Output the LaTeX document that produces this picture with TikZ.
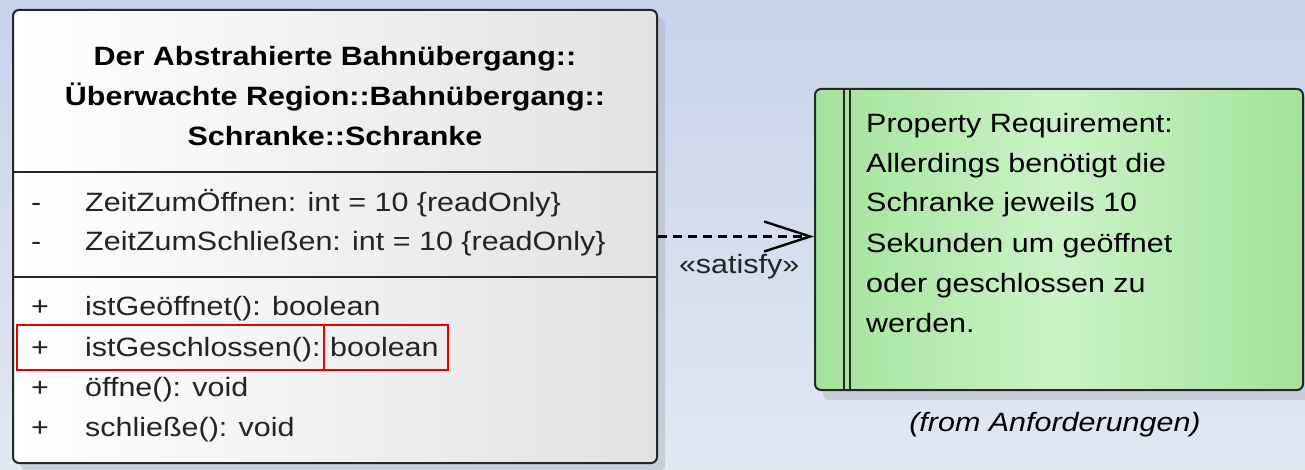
\documentclass[tikz,border=0pt]{standalone}
\usepackage{fontspec}
\setmainfont{Liberation Sans}[FakeStretch=1.15]
\usetikzlibrary{arrows.meta,calc}

\definecolor{bgtop}{RGB}{200,211,235}
\definecolor{bgbot}{RGB}{226,231,242}
\definecolor{shadowgray}{RGB}{170,175,190}
\definecolor{clsright}{RGB}{226,226,226}
\definecolor{reqdark}{RGB}{162,227,154}
\definecolor{reqlight}{RGB}{204,242,200}
\definecolor{txt}{RGB}{35,35,35}
\definecolor{mark}{RGB}{230,0,0}

\tikzset{
  classbox/.style={draw=black!85, line width=2pt, rounded corners=6pt,
    left color=white, right color=clsright, inner sep=0pt},
  reqbox/.style={draw=black!85, line width=2pt, rounded corners=6pt,
    left color=reqdark, right color=reqdark, middle color=reqlight, inner sep=0pt},
  boxshadow/.style={fill=shadowgray, opacity=0.45, rounded corners=6pt},
  sep/.style={draw=black!85, line width=2pt},
  hdr/.style={font=\fontsize{26.5}{40}\selectfont\bfseries, align=center, text=black, inner sep=0pt},
  member/.style={font=\fontsize{26.5}{40}\selectfont, anchor=base west, text=txt, inner sep=0pt},
  reqtext/.style={font=\fontsize{26.5}{40}\selectfont, anchor=base west, text=black, inner sep=0pt},
  hilite/.style={draw=mark, line width=1.6pt},
  satisfy/.style={draw=black, line width=2.2pt, dash pattern=on 9pt off 6pt,
    -{Straight Barb[length=46pt,width=30pt,line width=2.4pt]}},
}

\begin{document}
\begin{tikzpicture}[x=1pt,y=-1pt]
  % canvas
  \path[top color=bgtop, bottom color=bgbot] (0,0) rectangle (1305,470);
  \useasboundingbox (0,0) rectangle (1305,470);

  % drop shadows
  \fill[boxshadow] (21,18) rectangle (665,471);
  \fill[boxshadow] (823,97) rectangle (1311,400);

  % class box
  \node[classbox, minimum width=644pt, minimum height=453pt] (cls) at (335,236.5) {};
  \draw[sep] (13,172) -- (657,172);
  \draw[sep] (13,277) -- (657,277);
  \node[hdr] (title) at (335,96) {Der Abstrahierte Bahnübergang::\\Überwachte Region::Bahnübergang::\\Schranke::Schranke};

  % attributes
  \node[member] (a1v) at (31,212) {-};
  \node[member] (a1)  at (85,212) {ZeitZumÖffnen: int = 10 \{readOnly\}};
  \node[member] (a2v) at (31,251) {-};
  \node[member] (a2)  at (85,251) {ZeitZumSchließen: int = 10 \{readOnly\}};

  % operations
  \node[member] (o1v) at (31,315) {+};
  \node[member] (o1)  at (85,315) {istGeöffnet(): boolean};
  \node[member] (o2v) at (31,356) {+};
  \node[member] (o2)  at (85,356) {istGeschlossen():};
  \node[member] (o2t) at (330,356) {boolean};
  \node[member] (o3v) at (31,396) {+};
  \node[member] (o3)  at (85,396) {öffne(): void};
  \node[member] (o4v) at (31,436) {+};
  \node[member] (o4)  at (85,436) {schließe(): void};

  % highlighted parts of the operation
  \draw[hilite] (17,325) rectangle (324,370);
  \draw[hilite] (324,325) rectangle (448,370);

  % requirement
  \node[reqbox, minimum width=488pt, minimum height=301pt] (req) at (1059,239.5) {};
  \draw[line width=1.8pt, black!85] (844,89) -- (844,390);
  \draw[line width=1.8pt, black!85] (850,89) -- (850,390);
  \node[reqtext] (r1) at (866,133) {Property Requirement:};
  \node[reqtext] (r2) at (866,173) {Allerdings benötigt die};
  \node[reqtext] (r3) at (866,212) {Schranke jeweils 10};
  \node[reqtext] (r4) at (866,252) {Sekunden um geöffnet};
  \node[reqtext] (r5) at (866,292) {oder geschlossen zu};
  \node[reqtext] (r6) at (866,332) {werden.};
  \node[font=\fontsize{26.5}{40}\selectfont\itshape, text=black, inner sep=0pt] (from) at (1055,425) {(from Anforderungen)};

  % satisfy dependency
  \draw[satisfy] (cls.east) -- (cls.east -| req.west)
    node[pos=0.52, below=17pt, font=\fontsize{26.5}{40}\selectfont, text=txt, inner sep=0pt] (lbl) {«satisfy»};
\end{tikzpicture}
\end{document}
